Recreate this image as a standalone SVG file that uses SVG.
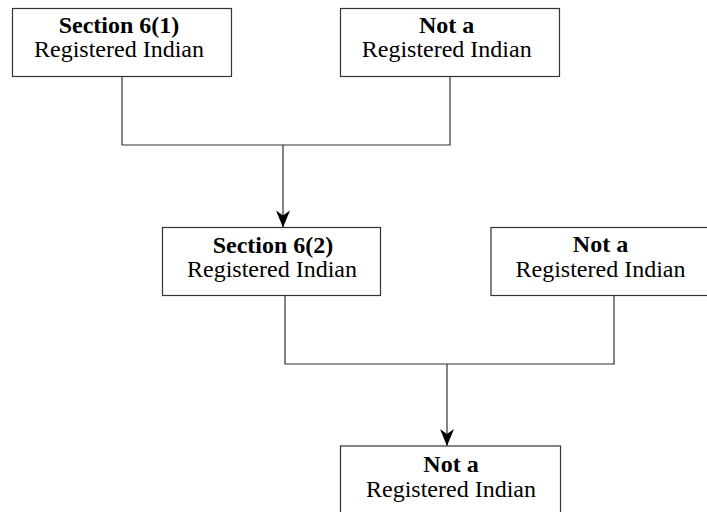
<svg xmlns="http://www.w3.org/2000/svg" width="707" height="512" viewBox="0 0 707 512">
<style>
.box{fill:#fff;stroke:#333;stroke-width:1.2}
.ln{fill:none;stroke:#333;stroke-width:1.2}
.t{font-family:'Liberation Serif','Times New Roman',serif;font-size:24px;fill:#000;text-anchor:middle}
.b{font-weight:bold}
</style>
<defs>
<marker id="arr" markerUnits="userSpaceOnUse" markerWidth="20" markerHeight="16" viewBox="-18 -8 20 16" refX="0" refY="0" orient="auto">
<path d="M0,0 L-17,-7 L-12,0 L-17,7 Z" fill="#000"/>
</marker>
</defs>
<g id="connectors">
<path class="ln" d="M122,77 V145 H450 V77"/>
<path class="ln" d="M283,145 V227.5" marker-end="url(#arr)"/>
<path class="ln" d="M285,296 V364 H614 V296"/>
<path class="ln" d="M447,364 V446" marker-end="url(#arr)"/>
</g>
<g id="n1">
<rect class="box" x="12.5" y="8.5" width="219" height="68"/>
<text class="t b" x="119" y="32.5">Section 6(1)</text>
<text class="t" x="119" y="56.5">Registered Indian</text>
</g>
<g id="n2">
<rect class="box" x="340.5" y="8.5" width="219" height="68"/>
<text class="t b" x="446.7" y="32.5">Not a</text>
<text class="t" x="446.7" y="56.5">Registered Indian</text>
</g>
<g id="n3">
<rect class="box" x="162.5" y="227.5" width="218" height="68"/>
<text class="t b" x="273" y="253">Section 6(2)</text>
<text class="t" x="272" y="277.3">Registered Indian</text>
</g>
<g id="n4">
<rect class="box" x="491" y="227.5" width="219" height="68"/>
<text class="t b" x="600.5" y="252">Not a</text>
<text class="t" x="600.5" y="277.3">Registered Indian</text>
</g>
<g id="n5">
<rect class="box" x="340.5" y="446" width="220" height="70"/>
<text class="t b" x="451" y="471.7">Not a</text>
<text class="t" x="451" y="496.7">Registered Indian</text>
</g>
</svg>
